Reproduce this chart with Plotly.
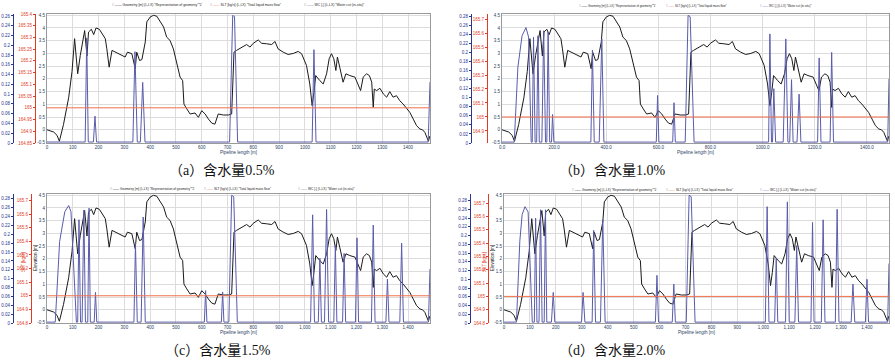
import plotly.graph_objects as go

W, H = 895, 364

# ---------------- data ----------------
# pipeline geometry profile (same in all four cases): position [m], elevation [m]
geo_x = [0, 26, 39, 48, 64, 84, 97, 107, 119, 129, 146, 155, 161, 172, 181, 190, 203, 215, 226,
         232, 241, 252, 271, 290, 303, 312, 329, 342, 348, 359, 368, 381, 387, 400, 413, 426,
         439, 452, 464, 477, 490, 503, 516, 526, 531, 542, 555, 574, 587, 600, 613, 626, 639,
         651, 664, 684, 703, 716, 725, 735, 748, 761, 774, 787, 800, 819, 832, 851, 871, 884,
         896, 916, 935, 955, 974, 987, 1006, 1019, 1028, 1035, 1042, 1058, 1071, 1084, 1094,
         1103, 1112, 1120, 1126, 1135, 1148, 1159, 1174, 1194, 1207, 1216, 1226, 1239, 1250,
         1259, 1265, 1269, 1278, 1291, 1304, 1317, 1329, 1342, 1355, 1368, 1381, 1394, 1407,
         1420, 1433, 1446, 1456, 1465, 1474, 1479, 1484]
geo_y = [0.0, -0.09, -0.22, -0.45, 0.21, 1.26, 2.29, 3.58, 2.2, 2.92, 3.9, 2.9, 3.84, 3.95, 3.74,
         4.0, 3.95, 3.78, 3.58, 3.18, 2.46, 3.12, 3.03, 2.95, 2.86, 3.05, 2.99, 2.4, 3.05, 2.72,
         2.76, 3.45, 4.24, 4.43, 4.5, 4.46, 4.26, 4.04, 3.64, 3.51, 3.18, 2.59, 2.07, 1.93, 1.01,
         0.82, 0.62, 0.66, 0.49, 0.75, 0.62, 0.42, 0.26, 0.22, 0.62, 0.58, 0.58, 0.62, 3.05,
         3.12, 3.2, 3.25, 3.35, 3.25, 3.4, 3.53, 3.4, 3.38, 3.35, 3.47, 3.18, 3.05, 2.96, 3.0,
         3.08, 2.99, 2.53, 1.8, 0.95, 1.47, 2.13, 1.93, 1.8, 2.2, 2.79, 2.99, 2.79, 2.33, 2.86,
         2.46, 1.87, 2.2, 2.13, 2.07, 1.74, 1.54, 2.07, 2.2, 2.13, 1.87, 0.88, 1.6, 1.54, 1.63,
         1.41, 1.28, 1.5, 1.28, 1.34, 1.14, 1.01, 0.82, 0.68, 0.42, 0.16, 0.03, 0.0, -0.1, -0.3,
         -0.45, -0.25]

# total liquid mass flow SLT [kg/s]
slt_x = [0, 1485]
slt_a = [165.0, 165.0]
slt_b = [165.0, 165.0]
slt_c = [165.0, 165.0]
slt_d = [165.0, 165.0]

# water cut (in-situ) [-]
wc_a_x = [0, 148, 154, 160, 180, 186, 192, 333, 341, 350, 362, 371, 380, 708, 720, 727, 739,
          1028, 1035, 1043, 1478, 1485]
wc_a = [0.002, 0.002, 0.215, 0.002, 0.002, 0.055, 0.002, 0.002, 0.187, 0.002, 0.002, 0.124,
        0.002, 0.002, 0.261, 0.259, 0.002, 0.002, 0.191, 0.002, 0.002, 0.125]

wc_b_x = [0, 47, 61, 77, 92, 102, 112, 116, 121, 127, 133, 138, 143, 153, 160, 167, 172, 177,
          183, 190, 194, 199, 341, 347, 354, 373, 383, 391, 592, 597, 602, 655, 660, 665, 703,
          714, 722, 737, 1023, 1028, 1034, 1038, 1043, 1050, 1079, 1089, 1097, 1104, 1111, 1117,
          1132, 1140, 1147, 1211, 1217, 1224, 1259, 1265, 1272, 1480, 1485]
wc_b = [0.002, 0.002, 0.168, 0.237, 0.255, 0.234, 0.002, 0.002, 0.234, 0.002, 0.002, 0.237,
        0.002, 0.002, 0.248, 0.002, 0.002, 0.245, 0.002, 0.002, 0.063, 0.002, 0.002, 0.205,
        0.002, 0.002, 0.230, 0.002, 0.002, 0.105, 0.002, 0.002, 0.089, 0.002, 0.002, 0.282,
        0.279, 0.002, 0.002, 0.241, 0.002, 0.002, 0.120, 0.002, 0.002, 0.230, 0.002, 0.002,
        0.140, 0.002, 0.002, 0.108, 0.002, 0.002, 0.188, 0.002, 0.002, 0.200, 0.002, 0.002,
        0.142]

wc_c_x = [0, 32, 49, 69, 84, 93, 114, 119, 124, 130, 136, 143, 149, 158, 163, 168, 183, 188,
          193, 337, 343, 350, 365, 373, 381, 610, 615, 620, 676, 681, 686, 705, 716, 724, 738,
          1022, 1030, 1037, 1052, 1058, 1064, 1076, 1084, 1092, 1112, 1118, 1124, 1146, 1152,
          1158, 1196, 1202, 1208, 1258, 1265, 1272, 1314, 1320, 1326, 1368, 1375, 1382, 1479,
          1485]
wc_c = [0.002, 0.002, 0.184, 0.251, 0.265, 0.251, 0.002, 0.002, 0.233, 0.002, 0.002, 0.255,
        0.002, 0.002, 0.259, 0.002, 0.002, 0.069, 0.002, 0.002, 0.180, 0.002, 0.002, 0.239,
        0.002, 0.002, 0.073, 0.002, 0.002, 0.070, 0.002, 0.002, 0.288, 0.285, 0.002, 0.002,
        0.244, 0.002, 0.002, 0.146, 0.002, 0.002, 0.256, 0.002, 0.002, 0.175, 0.002, 0.002,
        0.157, 0.002, 0.002, 0.192, 0.002, 0.002, 0.221, 0.002, 0.002, 0.099, 0.002, 0.002,
        0.180, 0.002, 0.002, 0.122]

wc_d_x = [0, 48, 61, 70, 81, 93, 109, 117, 122, 127, 135, 141, 147, 155, 160, 165, 183, 190,
          196, 299, 305, 312, 340, 346, 353, 372, 381, 390, 584, 590, 596, 649, 655, 661, 703,
          714, 722, 737, 1008, 1015, 1022, 1044, 1050, 1056, 1086, 1093, 1100, 1122, 1129, 1136,
          1184, 1190, 1196, 1224, 1231, 1238, 1278, 1285, 1292, 1339, 1346, 1353, 1394, 1400,
          1406, 1480, 1485]
wc_d = [0.002, 0.002, 0.187, 0.248, 0.266, 0.254, 0.002, 0.002, 0.240, 0.002, 0.002, 0.259,
        0.002, 0.002, 0.259, 0.002, 0.002, 0.070, 0.002, 0.002, 0.070, 0.002, 0.002, 0.212,
        0.002, 0.002, 0.236, 0.002, 0.002, 0.109, 0.002, 0.002, 0.089, 0.002, 0.002, 0.292,
        0.289, 0.002, 0.002, 0.266, 0.002, 0.002, 0.148, 0.002, 0.002, 0.277, 0.002, 0.002,
        0.177, 0.002, 0.002, 0.230, 0.002, 0.002, 0.236, 0.002, 0.002, 0.260, 0.002, 0.002,
        0.089, 0.002, 0.002, 0.100, 0.002, 0.002, 0.136]

# tick labels
elev_ticks = [-0.5, 0, 0.5, 1, 1.5, 2, 2.5, 3, 3.5, 4, 4.5]
elev_labels = ["-0.5", "0", "0.5", "1", "1.5", "2", "2.5", "3", "3.5", "4", "4.5"]
wc_ticks_26 = [0, 0.02, 0.04, 0.06, 0.08, 0.1, 0.12, 0.14, 0.16, 0.18, 0.2, 0.22, 0.24, 0.26]
wc_ticks_28 = wc_ticks_26 + [0.28]
slt_ticks_a = [164.85, 164.9, 164.95, 165, 165.05, 165.1, 165.15, 165.2, 165.25, 165.3, 165.35, 165.4]
slt_ticks_b = [164.9, 165, 165.1, 165.2, 165.3, 165.4, 165.5, 165.6, 165.7]
slt_ticks_cd = [164.8, 164.9, 165, 165.1, 165.2, 165.3, 165.4, 165.5, 165.6, 165.7]
x_ticks_100 = [0, 100, 200, 300, 400, 500, 600, 700, 800, 900, 1000, 1100, 1200, 1300, 1400]
x_labels_a = ["0", "100", "200", "300", "400", "500", "600", "700", "800", "900", "1000",
              "1100", "1200", "1300", "1400"]
x_ticks_200 = [0, 200, 400, 600, 800, 1000, 1200, 1400]
x_labels_b = ["0.0", "200.0", "400.0", "600.0", "800.0", "1000.0", "1200.0", "1400.0"]
x_labels_cd = ["0", "100", "200", "300", "400", "500", "600", "700", "800", "900", "1,000",
               "1,100", "1,200", "1,300", "1,400"]

captions = ["（a）含水量0.5%", "（b）含水量1.0%", "（c）含水量1.5%", "（d）含水量2.0%"]
legend_texts = ['Geometry [m] (L,LX) "Representation of geometry"*2',
                'SLT [kg/s] (L,LX) "Total liquid mass flow"',
                'WC [-] (L,LX) "Water cut (in-situ)"']

# ---------------- styling / layout ----------------
BLACK = "#1a1a1a"
BLUE_LINE = "#5a5cab"
BLUE_AX = "#2b3590"
RED_LINE = "#f0704c"
RED_AX = "#e23b24"
GRID = "#dcdcdc"
FRAME = "#9a9a9a"
TF = dict(family="Liberation Sans, Arial, sans-serif", size=4.5)

panels = [
    dict(box=(47, 14, 430, 143), blue=13, red=35, brange=[0, 0.264], bticks=wc_ticks_26,
         rrange=[164.85, 165.4], rticks=slt_ticks_a, xt=x_ticks_100, xl=x_labels_a,
         wcx=wc_a_x, wc=wc_a, slt=slt_a, leg_y=5, leg_x=[110, 208, 302], leg_fs=3.4,
         cap=(222, 170), titles=None),
    dict(box=(502, 14, 889, 143), blue=471, red=487, brange=[0, 0.285], bticks=wc_ticks_28,
         rrange=[164.814, 165.736], rticks=slt_ticks_b, xt=x_ticks_200, xl=x_labels_b,
         wcx=wc_b_x, wc=wc_b, slt=slt_b, leg_y=6, leg_x=[577, 664, 758], leg_fs=2.9,
         cap=(612, 170), titles=None),
    dict(box=(47, 194, 430, 323), blue=13, red=31, brange=[0, 0.291], bticks=wc_ticks_28,
         rrange=[164.8, 165.748], rticks=slt_ticks_cd, xt=x_ticks_100, xl=x_labels_cd,
         wcx=wc_c_x, wc=wc_c, slt=slt_c, leg_y=189, leg_x=[108, 202, 296], leg_fs=3.2,
         cap=(218, 350), titles=(23, 35)),
    dict(box=(504, 194, 889, 323), blue=470, red=488, brange=[0, 0.295], bticks=wc_ticks_28,
         rrange=[164.8, 165.77], rticks=slt_ticks_cd, xt=x_ticks_100, xl=x_labels_cd,
         wcx=wc_d_x, wc=wc_d, slt=slt_d, leg_y=190, leg_x=[570, 664, 758], leg_fs=3.2,
         cap=(612, 350), titles=(484, 492)),
]


def px(x):
    return x / W


def py(y):
    return 1 - y / H


fig = go.Figure()
layout = dict(width=W, height=H, margin=dict(l=0, r=0, t=0, b=0), showlegend=False,
              paper_bgcolor="white", plot_bgcolor="white", annotations=[])

for i, p in enumerate(panels):
    x0, y0, x1, y1 = p["box"]
    xn = "x" if i == 0 else f"x{i + 1}"
    ye, yb, yr = 3 * i + 1, 3 * i + 2, 3 * i + 3
    ye_n = "y" if ye == 1 else f"y{ye}"
    yb_n, yr_n = f"y{yb}", f"y{yr}"
    xkey = "xaxis" if i == 0 else f"xaxis{i + 1}"
    yekey = "yaxis" if ye == 1 else f"yaxis{ye}"

    layout[xkey] = dict(domain=[px(x0), px(x1)], range=[0, 1485], anchor=ye_n,
                        tickvals=p["xt"], ticktext=p["xl"], tickfont=TF, showgrid=True,
                        gridcolor=GRID, gridwidth=1, zeroline=False, showline=True,
                        linecolor=FRAME, mirror=True, ticks="", automargin=False,
                        title=dict(text="Pipeline length [m]", font=dict(family=TF["family"], size=4.5),
                                   standoff=1))
    layout[yekey] = dict(domain=[py(y1), py(y0)], range=[-0.52, 4.55], anchor=xn,
                         tickvals=elev_ticks, ticktext=elev_labels, tickfont=TF, showgrid=True,
                         gridcolor=GRID, zeroline=False, showline=True, linecolor=FRAME,
                         mirror=True, ticks="", automargin=False)
    layout[f"yaxis{yb}"] = dict(overlaying=ye_n, anchor="free", position=px(p["blue"]), side="left",
                                range=p["brange"], tickvals=p["bticks"],
                                tickfont=dict(family=TF["family"], size=4.5, color=BLUE_AX),
                                showgrid=False, zeroline=False, showline=True, linecolor=BLUE_AX,
                                ticks="outside", ticklen=2, tickcolor=BLUE_AX, automargin=False)
    layout[f"yaxis{yr}"] = dict(overlaying=ye_n, anchor="free", position=px(p["red"]), side="left",
                                range=p["rrange"], tickvals=p["rticks"],
                                tickfont=dict(family=TF["family"], size=4.5, color=RED_AX),
                                showgrid=False, zeroline=False, showline=True, linecolor=RED_AX,
                                ticks="outside", ticklen=2, tickcolor=RED_AX, automargin=False)

    fig.add_trace(go.Scatter(x=p["wcx"], y=p["wc"], mode="lines", xaxis=xn, yaxis=yb_n,
                             line=dict(color=BLUE_LINE, width=1), name="WC"))
    fig.add_trace(go.Scatter(x=slt_x, y=p["slt"], mode="lines", xaxis=xn, yaxis=yr_n,
                             line=dict(color=RED_LINE, width=1), name="SLT"))
    fig.add_trace(go.Scatter(x=geo_x, y=geo_y, mode="lines", xaxis=xn, yaxis=ye_n,
                             line=dict(color=BLACK, width=1), name="Geometry"))

    # legend row
    cols = [BLACK, RED_LINE, BLUE_LINE]
    for k in range(3):
        layout["annotations"].append(dict(
            xref="paper", yref="paper", x=px(p["leg_x"][k]), y=py(p["leg_y"]),
            xanchor="left", yanchor="middle", showarrow=False,
            text=f'<span style="color:#888">#</span> <span style="color:{cols[k]}">——</span> {legend_texts[k]}',
            font=dict(family=TF["family"], size=p["leg_fs"], color="#222")))
    # caption
    layout["annotations"].append(dict(
        xref="paper", yref="paper", x=px(p["cap"][0]), y=py(p["cap"][1]),
        xanchor="center", yanchor="middle", showarrow=False, text=captions[i],
        font=dict(family="Liberation Serif, Noto Sans CJK SC", size=14, color="#111")))
    if p["titles"]:
        rx, bx = p["titles"]
        layout["annotations"].append(dict(
            xref="paper", yref="paper", x=px(rx), y=py(262), textangle=-90, showarrow=False,
            xanchor="center", yanchor="middle", text="SLT [kg/s]",
            font=dict(family=TF["family"], size=4.5, color=RED_AX)))
        layout["annotations"].append(dict(
            xref="paper", yref="paper", x=px(bx), y=py(258), textangle=-90, showarrow=False,
            xanchor="center", yanchor="middle", text="Elevation [m]",
            font=dict(family=TF["family"], size=4.5, color=BLACK)))

fig.update_layout(**layout)
fig.write_html("out.html", config={"displayModeBar": False},
               post_script="document.body.style.margin='0';document.body.style.overflow='hidden';")
